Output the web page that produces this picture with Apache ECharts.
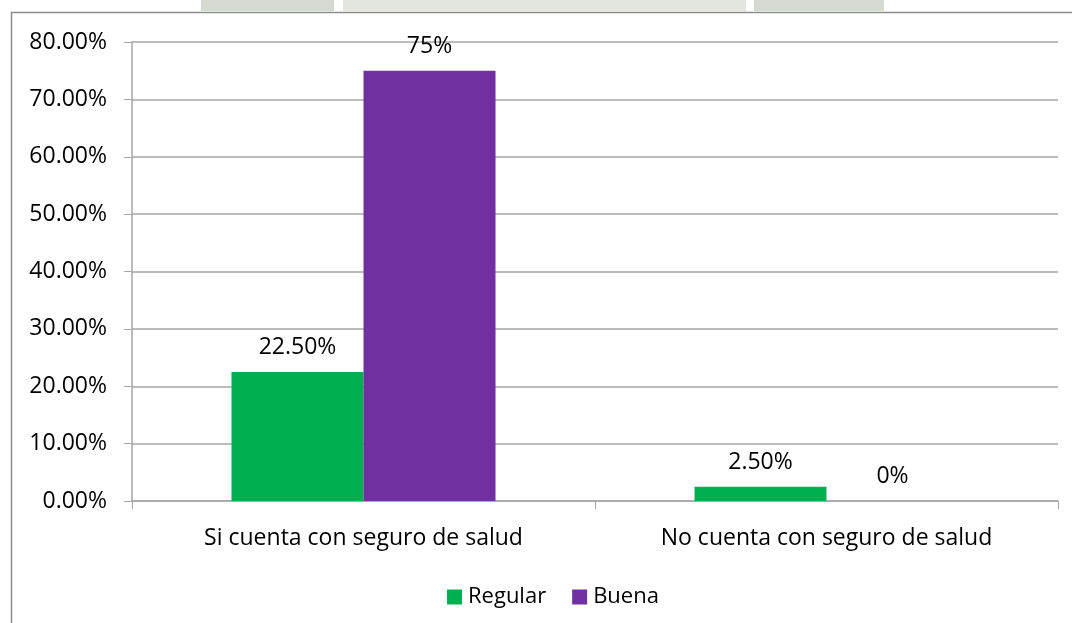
<!DOCTYPE html>
<html>
<head>
  <meta charset="utf-8">
  <title>seguro de salud</title>
  <script src="https://cdn.jsdelivr.net/npm/echarts@6/dist/echarts.min.js"></script>
  <style>
    body { margin: 0; padding: 0; background: #fff; }
    #main { width: 1072px; height: 623px; }
  </style>
</head>
<body>
<div id="main"></div>
<script>
  const categories = ['Si cuenta con seguro de salud', 'No cuenta con seguro de salud'];
  const regular = [22.5, 2.5];
  const buena = [75, 0];
  const yTicks = { min: 0, max: 80, interval: 10 };

  const FONT = '"Open Sans", sans-serif';
  const chart = echarts.init(document.getElementById('main'));

  chart.setOption({
    animation: false,
    textStyle: { fontFamily: FONT },
    graphic: [
      // watermark strip at top
      { type: 'rect', shape: { x: 201, y: 0, width: 133, height: 11 }, style: { fill: '#d4d9d1' } },
      { type: 'rect', shape: { x: 343, y: 0, width: 403, height: 11 }, style: { fill: '#e2e6df' } },
      { type: 'rect', shape: { x: 754, y: 0, width: 130, height: 11 }, style: { fill: '#d4d9d1' } },
      // chart frame
      { type: 'rect', shape: { x: 11.5, y: 12.5, width: 1100, height: 700 },
        style: { fill: null, stroke: '#8c8c8c', lineWidth: 1.5 } }
    ],
    grid: { left: 132, right: 14, top: 42, bottom: 122 },
    legend: {
      top: 581,
      left: 442,
      itemWidth: 15,
      itemHeight: 15,
      itemGap: 26,
      icon: 'rect',
      textStyle: { fontSize: 22, color: '#000', fontFamily: FONT, padding: [0, 0, 0, 1] },
      data: ['Regular', 'Buena']
    },
    xAxis: {
      type: 'category',
      data: categories,
      axisLine: { lineStyle: { color: '#a6a6a6', width: 1.5 } },
      axisTick: { show: true, length: 8, lineStyle: { color: '#a6a6a6' } },
      axisLabel: { fontSize: 23, color: '#000', margin: 26, fontFamily: FONT }
    },
    yAxis: {
      type: 'value',
      min: yTicks.min,
      max: yTicks.max,
      interval: yTicks.interval,
      axisLine: { show: true, lineStyle: { color: '#a6a6a6', width: 1.5 } },
      axisTick: { show: true, length: 8, lineStyle: { color: '#a6a6a6' } },
      splitLine: { lineStyle: { color: '#a6a6a6', width: 1.5 } },
      axisLabel: {
        fontSize: 23, color: '#000', margin: 25, fontFamily: FONT,
        formatter: v => v.toFixed(2) + '%'
      }
    },
    series: [
      {
        name: 'Regular',
        type: 'bar',
        data: regular,
        barWidth: 132,
        barGap: '0%',
        itemStyle: { color: '#00B050' },
        label: {
          show: true, position: 'top', distance: 13,
          fontSize: 23, color: '#000', fontFamily: FONT,
          formatter: p => p.value.toFixed(2) + '%'
        }
      },
      {
        name: 'Buena',
        type: 'bar',
        data: buena,
        barWidth: 132,
        itemStyle: { color: '#7030A0' },
        label: {
          show: true, position: 'top', distance: 13,
          fontSize: 23, color: '#000', fontFamily: FONT,
          formatter: p => p.value + '%'
        }
      }
    ]
  });
</script>
</body>
</html>
